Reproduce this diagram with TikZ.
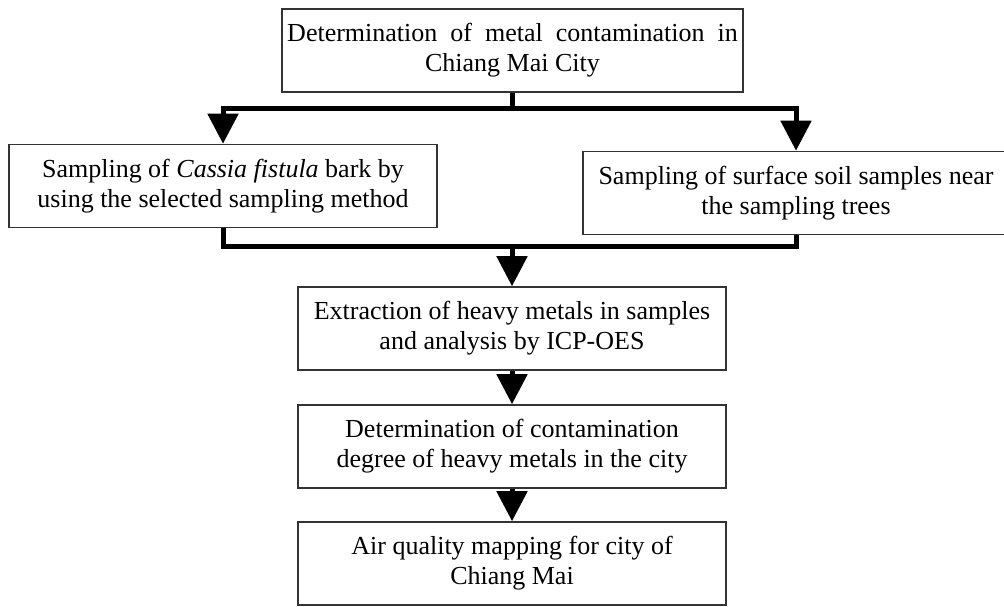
\documentclass[tikz,border=0pt]{standalone}
\usepackage{fontspec}
\setmainfont{Liberation Serif}
\usetikzlibrary{arrows.meta}

\begin{document}
\begin{tikzpicture}[x=0.5pt, y=-0.5pt,
    stage/.style={draw=black!80, line width=0.8pt, align=center, inner sep=2pt,
        minimum height=41.5pt, font=\fontsize{13}{15}\selectfont},
    bus/.style={line width=2.5pt},
    flow/.style={bus, -{Triangle[width=15pt,length=15pt]}}]
\useasboundingbox (0,0) rectangle (1004,606);
\node[stage, minimum width=230.5pt] (city) at (512.5,50.5) {Determination\ \ of\ \ metal\ \ contamination\ \ in\\ Chiang Mai City}; % start
\node[stage, minimum width=214pt] (bark) at (223,186) {Sampling of \textit{Cassia fistula} bark by\\ using the selected sampling method}; % left branch
\node[stage, minimum width=213pt] (soil) at (796,193) {Sampling of surface soil samples near\\ the sampling trees}; % right branch
\node[stage, minimum width=214pt] (extract) at (512,328.5) {Extraction of heavy metals in samples\\ and analysis by ICP-OES};
\node[stage, minimum width=214pt] (degree) at (512,446.5) {Determination of contamination\\ degree of heavy metals in the city};
\node[stage, minimum width=214pt] (mapping) at (512,563.5) {Air quality mapping for city of\\ Chiang Mai}; % end
\coordinate (split) at (512.5,108);
\coordinate (merge) at (512,246);
\draw[bus] (city.south) -- (split);
\draw[flow] (split) -| (bark.north);
\draw[flow] (split) -| (soil.north);
\draw[bus] (bark.south) |- (merge);
\draw[bus] (soil.south) |- (merge);
\draw[flow] (merge) -- (extract.north);
\draw[flow] (extract) -- (degree);
\draw[flow] (degree) -- (mapping);
\end{tikzpicture}
\end{document}
